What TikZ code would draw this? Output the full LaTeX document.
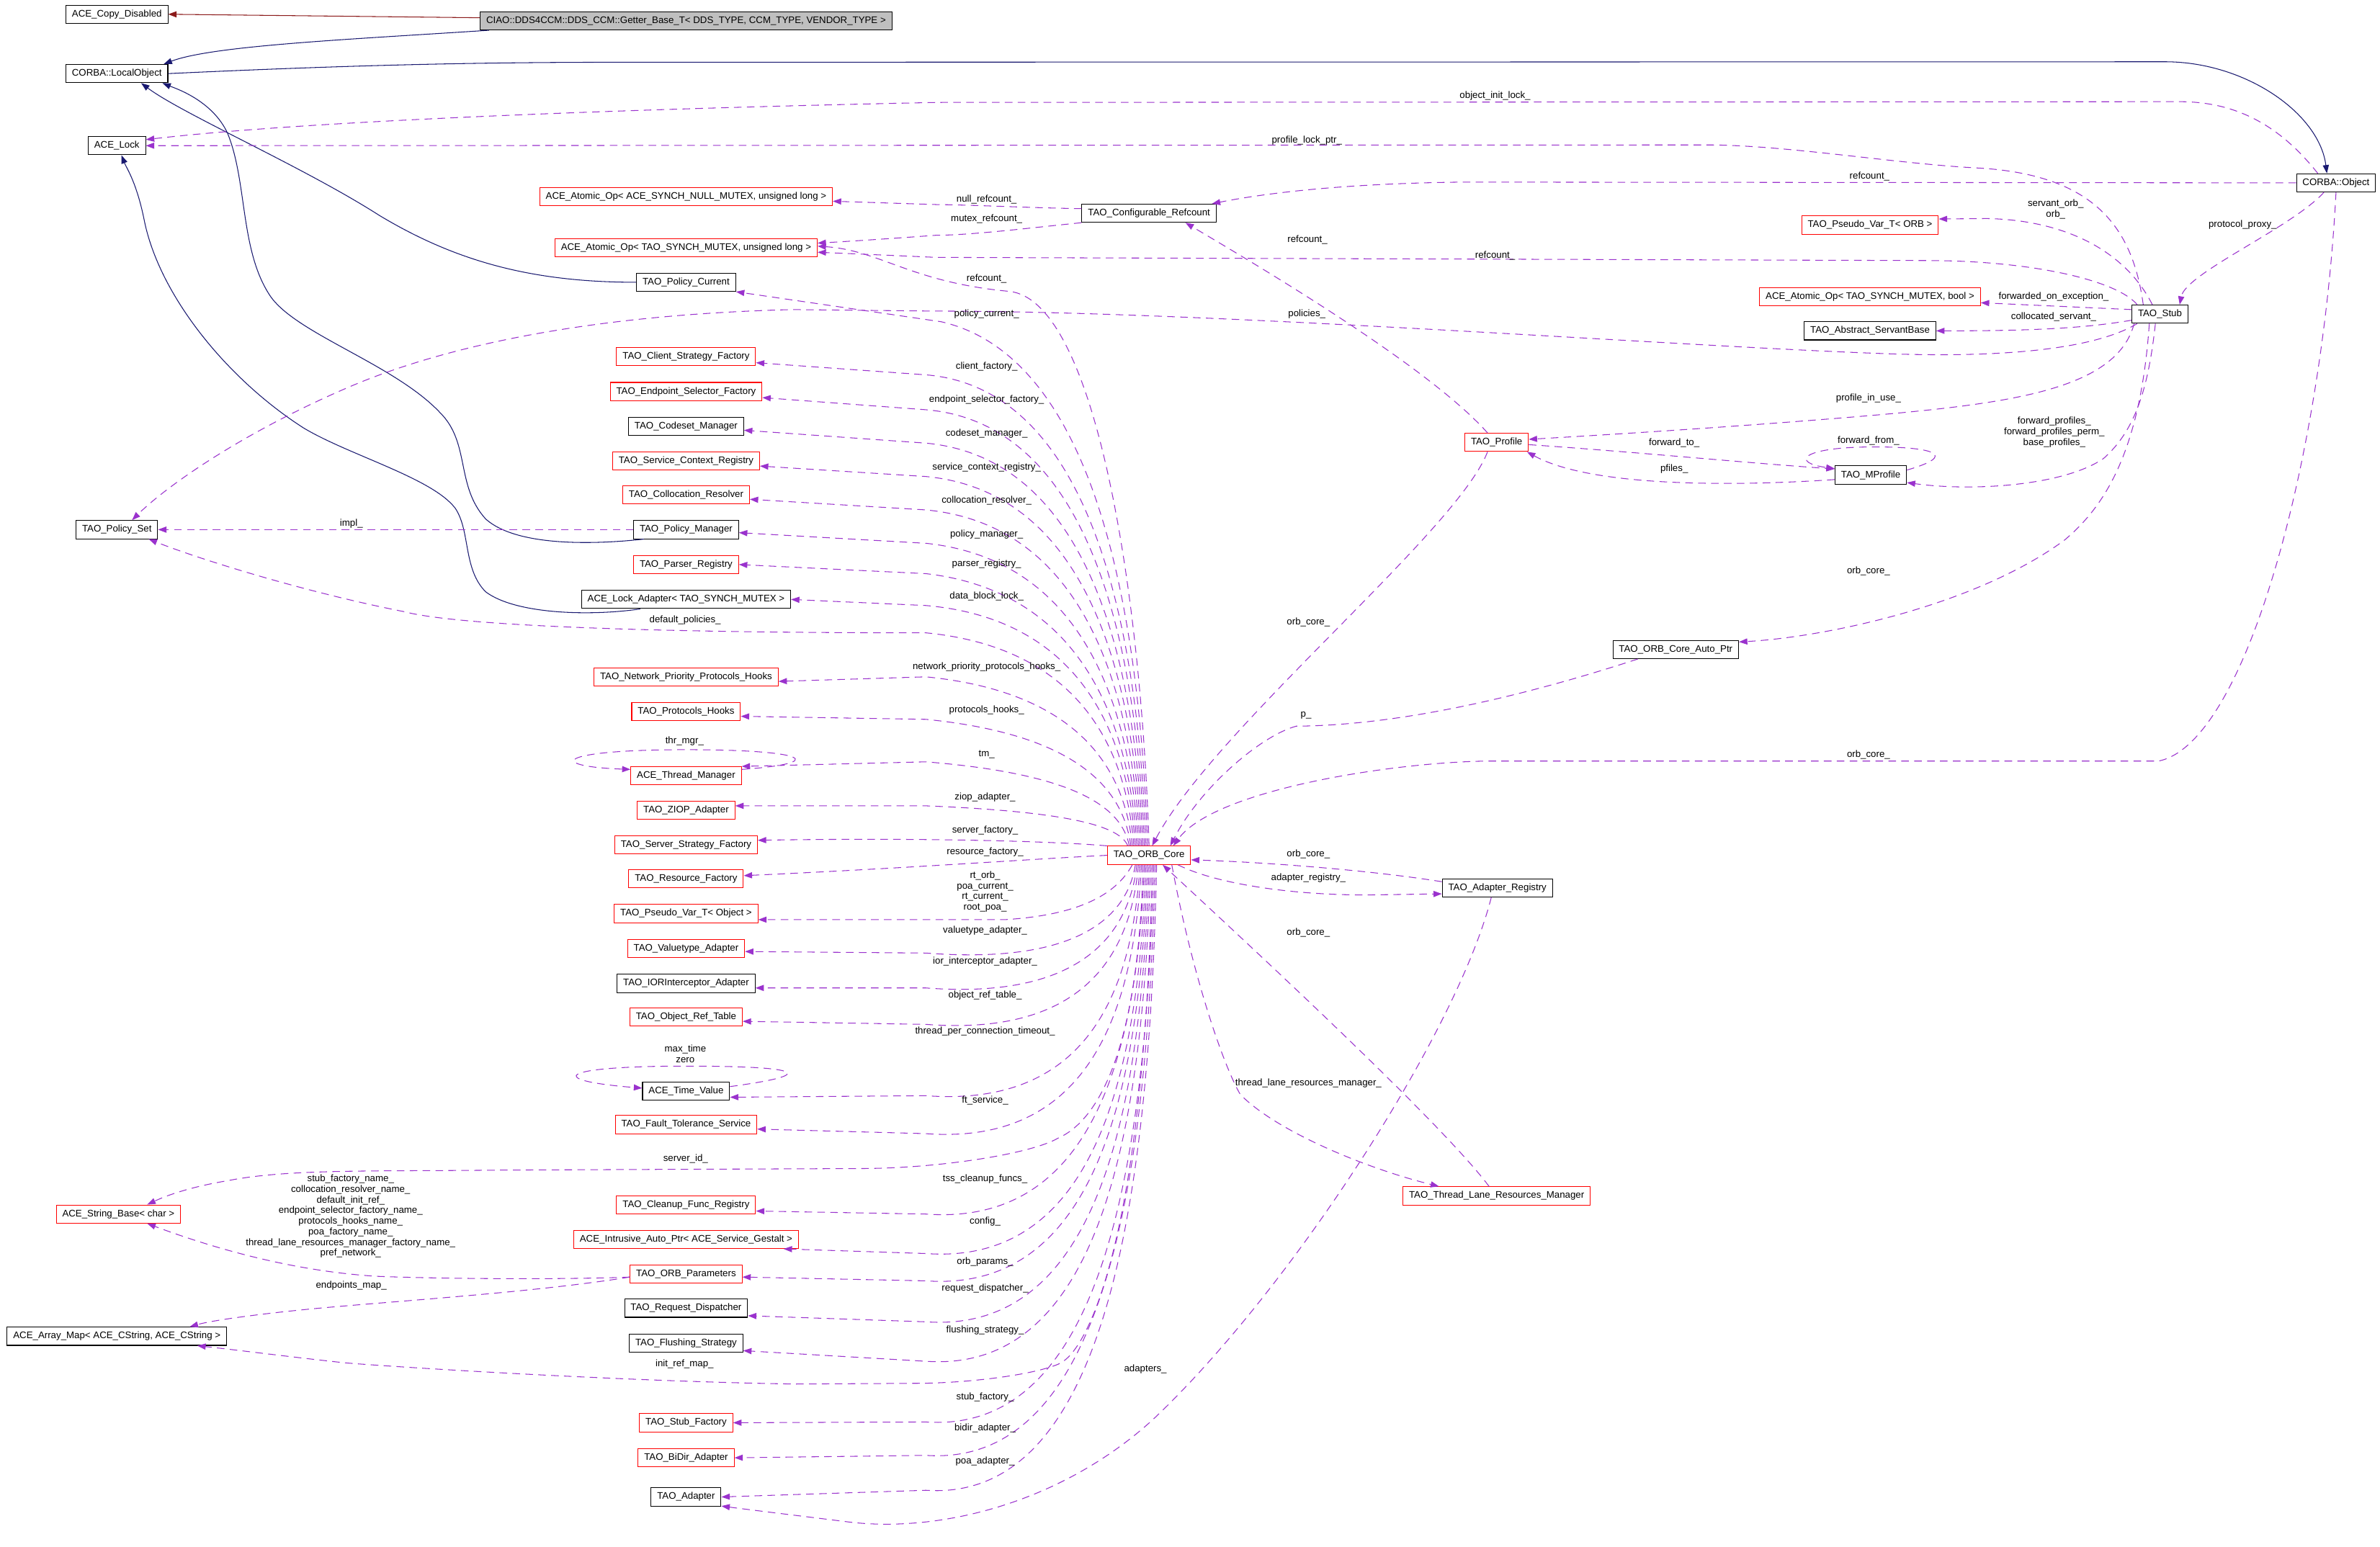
\documentclass[tikz,border=0pt]{standalone}
\usepackage{fontspec}
\setmainfont{Liberation Sans}
\usetikzlibrary{arrows.meta}
\definecolor{dorchid}{HTML}{9A32CD}
\definecolor{mnblue}{HTML}{191970}
\definecolor{fbrick}{HTML}{8B1A1A}
\definecolor{grayfill}{HTML}{BFBFBF}
\begin{document}
\begin{tikzpicture}[x=1pt, y=-1pt,
  cls/.style={draw=black, fill=white, line width=0.5pt, inner xsep=4pt, inner ysep=0pt, minimum height=12pt, font=\fontsize{6.3}{7}\selectfont},
  redcls/.style={cls, draw=red},
  lbl/.style={inner sep=0pt, font=\fontsize{6.3}{7}\selectfont, align=center},
  usage/.style={draw=dorchid, line width=0.5pt, dash pattern=on 5pt off 3.5pt, -{Triangle[length=5.5pt,width=4pt]}},
  inherit/.style={draw=mnblue, line width=0.5pt, -{Triangle[length=5.5pt,width=4pt]}},
  privinh/.style={draw=fbrick, line width=0.5pt, -{Triangle[length=5.5pt,width=4pt]}}]
\path[fill=white] (0,0) rectangle (1568,1019);
\node[cls] (copydis) at (77,9.4) {ACE\_Copy\_Disabled};
\node[cls, fill=grayfill] (getter) at (452,13.7) {CIAO::DDS4CCM::DDS\_CCM::Getter\_Base\_T< DDS\_TYPE, CCM\_TYPE, VENDOR\_TYPE >};
\node[cls] (localobj) at (77,48.5) {CORBA::LocalObject};
\node[cls] (acelock) at (77,96) {ACE\_Lock};
\node[cls] (polset) at (77,349) {TAO\_Policy\_Set};
\node[redcls] (strbase) at (78,800) {ACE\_String\_Base< char >};
\node[cls] (arraymap) at (77,880.5) {ACE\_Array\_Map< ACE\_CString, ACE\_CString >};
\node[redcls] (atomnull) at (452,129.6) {ACE\_Atomic\_Op< ACE\_SYNCH\_NULL\_MUTEX, unsigned long >};
\node[redcls] (atomtao) at (452,163.2) {ACE\_Atomic\_Op< TAO\_SYNCH\_MUTEX, unsigned long >};
\node[cls] (polcur) at (452,186) {TAO\_Policy\_Current};
\node[redcls] (client) at (452,235) {TAO\_Client\_Strategy\_Factory};
\node[redcls] (endpoint) at (452,258) {TAO\_Endpoint\_Selector\_Factory};
\node[cls] (codeset) at (452,281) {TAO\_Codeset\_Manager};
\node[redcls] (svcctx) at (452,303.6) {TAO\_Service\_Context\_Registry};
\node[redcls] (colres) at (452,326) {TAO\_Collocation\_Resolver};
\node[cls] (polmgr) at (452,349) {TAO\_Policy\_Manager};
\node[redcls] (parser) at (452,372) {TAO\_Parser\_Registry};
\node[cls] (lockadp) at (452,395) {ACE\_Lock\_Adapter< TAO\_SYNCH\_MUTEX >};
\node[redcls] (netprio) at (452,446) {TAO\_Network\_Priority\_Protocols\_Hooks};
\node[redcls] (prothooks) at (452,469) {TAO\_Protocols\_Hooks};
\node[redcls] (thrmgr) at (452,511) {ACE\_Thread\_Manager};
\node[redcls] (ziop) at (452,534) {TAO\_ZIOP\_Adapter};
\node[redcls] (srvfact) at (452,556.7) {TAO\_Server\_Strategy\_Factory};
\node[redcls] (resfact) at (452,579) {TAO\_Resource\_Factory};
\node[redcls] (pvobj) at (452,602) {TAO\_Pseudo\_Var\_T< Object >};
\node[redcls] (valtype) at (452,625) {TAO\_Valuetype\_Adapter};
\node[cls] (iorint) at (452,648) {TAO\_IORInterceptor\_Adapter};
\node[redcls] (objref) at (452,670) {TAO\_Object\_Ref\_Table};
\node[cls] (timeval) at (452,719) {ACE\_Time\_Value};
\node[redcls] (ftsvc) at (452,741) {TAO\_Fault\_Tolerance\_Service};
\node[redcls] (cleanup) at (452,794) {TAO\_Cleanup\_Func\_Registry};
\node[redcls] (intrusive) at (452,816.7) {ACE\_Intrusive\_Auto\_Ptr< ACE\_Service\_Gestalt >};
\node[redcls] (orbparams) at (452,839.5) {TAO\_ORB\_Parameters};
\node[cls] (reqdisp) at (452,862) {TAO\_Request\_Dispatcher};
\node[cls] (flush) at (452,885) {TAO\_Flushing\_Strategy};
\node[redcls] (stubfact) at (452,937.5) {TAO\_Stub\_Factory};
\node[redcls] (bidir) at (452,960.6) {TAO\_BiDir\_Adapter};
\node[cls] (adapter) at (452,986.4) {TAO\_Adapter};
\node[cls] (refcnt) at (757,140.5) {TAO\_Configurable\_Refcount};
\node[redcls] (orb) at (757,563.6) {TAO\_ORB\_Core};
\node[redcls] (profile) at (986,291.5) {TAO\_Profile};
\node[cls] (mprofile) at (1232.5,313) {TAO\_MProfile};
\node[cls] (autoptr) at (1104,428) {TAO\_ORB\_Core\_Auto\_Ptr};
\node[cls] (adreg) at (986.5,585) {TAO\_Adapter\_Registry};
\node[redcls] (tlrm) at (986,788) {TAO\_Thread\_Lane\_Resources\_Manager};
\node[redcls] (pvorb) at (1232,148.3) {TAO\_Pseudo\_Var\_T< ORB >};
\node[redcls] (atombool) at (1232,195.5) {ACE\_Atomic\_Op< TAO\_SYNCH\_MUTEX, bool >};
\node[cls] (servbase) at (1232,218) {TAO\_Abstract\_ServantBase};
\node[cls] (stub) at (1423,207) {TAO\_Stub};
\node[cls] (object) at (1539,120.5) {CORBA::Object};
\draw[privinh] ([yshift=2pt]getter.west) -- (copydis.east);
\draw[inherit] ([xshift=6pt]getter.south west) .. controls (230,26) and (140,30) .. ([xshift=-3pt]localobj.north east);
\draw[inherit] (localobj.east) .. controls (250,42) and (330,41) .. (420,41) -- (1427,40.7) .. controls (1480,41) and (1528,75) .. ([xshift=-6pt]object.north);
\draw[inherit] (polcur.west) .. controls (350,186) and (300,172) .. (250,142) .. controls (200,110) and (120,75) .. ([xshift=16pt]localobj.south);
\draw[inherit] ([xshift=7pt]polmgr.south west) .. controls (390,359) and (340,360) .. (320,342) .. controls (300,320) and (310,292) .. (290,272) .. controls (260,240) and (195,220) .. (178,195) .. controls (158,165) and (163,120) .. (150,88) .. controls (140,66) and (115,58) .. ([xshift=30pt]localobj.south);
\draw[inherit] ([xshift=39pt]lockadp.south west) .. controls (390,406) and (340,405) .. (320,390) .. controls (305,375) and (310,350) .. (300,335) .. controls (285,315) and (230,300) .. (200,282) .. controls (150,250) and (105,195) .. (95,145) .. controls (90,120) and (83,110) .. ([xshift=3pt]acelock.south);
\draw[usage] ([xshift=-12pt]object.north) .. controls (1500,80) and (1470,67) .. (1436,67) -- (617,67.5) .. controls (400,72) and (200,80) .. ([yshift=4pt]acelock.east);
\draw[usage] (object.west) -- (963,120) .. controls (880,121) and (830,128) .. ([xshift=-3pt]refcnt.north east);
\draw[usage] ([xshift=-8pt]object.south) .. controls (1510,150) and (1440,180) .. ([xshift=13pt]stub.north);
\draw[usage] (object.south) .. controls (1530,300) and (1480,490) .. (1422,501.5) -- (981,501.5) .. controls (920,502) and (800,520) .. ([xshift=16pt]orb.north);
\draw[usage] ([xshift=-11pt]stub.north) .. controls (1405,150) and (1380,115) .. (1303,110.7) .. controls (1250,108) and (1180,96) .. (1127,95.5) -- (acelock.east);
\draw[usage] ([xshift=-5pt]stub.north) .. controls (1400,165) and (1360,145) .. (1309,144) -- ([yshift=4pt]pvorb.east);
\draw[usage] ([xshift=-15pt]stub.north) .. controls (1395,185) and (1340,172) .. (1272,171.7) -- (617,169.6) -- ([yshift=-3pt]atomtao.east);
\draw[usage] ([yshift=3pt]stub.west) -- ([yshift=-4pt]atombool.east);
\draw[usage] ([yshift=-4pt]stub.west) .. controls (1370,217) and (1330,218) .. (servbase.east);
\draw[usage] ([xshift=-15pt]stub.south) .. controls (1380,230) and (1320,236) .. (1241,233) .. controls (1100,228) and (800,205) .. (617,205) -- (522,204) .. controls (400,207) and (300,225) .. (230,255) .. controls (160,285) and (110,320) .. ([xshift=10pt]polset.north);
\draw[usage] ([xshift=-17pt]stub.south) .. controls (1395,255) and (1330,265) .. (1241.6,273) .. controls (1150,281) and (1050,287) .. ([yshift=2pt]profile.east);
\draw[usage] ([xshift=-3pt]stub.south) .. controls (1415,260) and (1405,285) .. (1386,302) .. controls (1360,320) and (1300,324) .. ([yshift=-5pt]mprofile.east);
\draw[usage] ([xshift=-7pt]stub.south) .. controls (1410,300) and (1385,335) .. (1360,356) .. controls (1300,400) and (1200,420) .. ([yshift=5pt]autoptr.east);
\draw[usage] ([xshift=-6pt]profile.north) .. controls (940,240) and (820,170) .. ([xshift=24pt]refcnt.south);
\draw[usage] ([yshift=-1.5pt]profile.east) .. controls (1080,298) and (1150,305) .. ([yshift=4pt]mprofile.west);
\draw[usage] ([yshift=-3pt]mprofile.west) .. controls (1150,320) and (1050,322) .. ([xshift=20pt]profile.south);
\draw[usage] ([yshift=-3pt]mprofile.north east) .. controls (1290,300) and (1275,294.5) .. (1235,294.5) .. controls (1185,294.5) and (1180,305) .. ([yshift=-2pt]mprofile.north west);
\draw[usage] ([xshift=-6pt]profile.south) .. controls (960,350) and (800,480) .. ([xshift=2pt]orb.north);
\draw[usage] ([xshift=-25pt]autoptr.south) .. controls (1000,460) and (920,478) .. (854,478.5) .. controls (830,485) and (790,520) .. ([xshift=14pt]orb.north);
\draw[usage] ([yshift=3pt]refcnt.west) .. controls (680,137) and (640,135) .. (617,134.8) -- ([yshift=-3pt]atomnull.east);
\draw[usage] (refcnt.south west) .. controls (680,150) and (640,155) .. (617,155) .. controls (590,157) and (560,159) .. ([yshift=3pt]atomtao.east);
\draw[usage] (polmgr.west) -- (polset.east);
\draw[usage] (orb.north) .. controls (752,392) and (722,198) .. (665,192) .. controls (600,186) and (580,165) .. ([yshift=1pt]atomtao.east);
\draw[usage] ([xshift=-1pt]orb.north) .. controls (751,402) and (721,235) .. (620,212) -- (polcur.south east);
\draw[usage] ([xshift=-2pt]orb.north) .. controls (750,417) and (720,256) .. (610,247) -- ([yshift=-4pt]client.east);
\draw[usage] ([xshift=-3pt]orb.north) .. controls (749,427) and (719,279) .. (610,270) -- ([yshift=-4pt]endpoint.east);
\draw[usage] ([xshift=-4pt]orb.north) .. controls (748,438) and (718,302) .. (610,292) -- ([yshift=-2.5pt]codeset.east);
\draw[usage] ([xshift=-5pt]orb.north) .. controls (747,448) and (717,324) .. (610,314) -- ([yshift=-3.5pt]svcctx.east);
\draw[usage] ([xshift=-6pt]orb.north) .. controls (746,458) and (716,346) .. (610,336) -- ([yshift=-3pt]colres.east);
\draw[usage] ([xshift=-7pt]orb.north) .. controls (745,468) and (715,369) .. (610,358) -- ([yshift=-2pt]polmgr.east);
\draw[usage] ([xshift=-8pt]orb.north) .. controls (744,478) and (714,390) .. (610,378) -- (parser.east);
\draw[usage] ([xshift=-9pt]orb.north) .. controls (743,485) and (713,408) .. (610,399) -- (lockadp.east);
\draw[usage] ([xshift=-10pt]orb.north) .. controls (742,494) and (712,427) .. (610,417) .. controls (420,417) and (300,412) .. (266,403) .. controls (200,390) and (130,368) .. ([xshift=21pt]polset.south);
\draw[usage] ([xshift=-11pt]orb.north) .. controls (741,507) and (711,456) .. (610,446) -- ([yshift=-3pt]netprio.east);
\draw[usage] ([xshift=-12pt]orb.north) .. controls (740,520) and (710,484) .. (610,474) -- ([yshift=-3pt]prothooks.east);
\draw[usage] ([xshift=-13pt]orb.north) .. controls (739,532) and (709,510) .. (610,502) -- ([yshift=6pt]thrmgr.east);
\draw[usage] ([yshift=4pt]thrmgr.east) .. controls (545,503) and (535,494) .. (452,494) .. controls (365,494) and (360,505) .. ([yshift=4pt]thrmgr.west);
\draw[usage] ([xshift=-14pt]orb.north) .. controls (738,545) and (708,535) .. (610,531) -- ([yshift=3pt]ziop.east);
\draw[usage] (orb.north west) .. controls (690,554) and (600,552) .. ([yshift=3pt]srvfact.east);
\draw[usage] (orb.west) .. controls (680,566) and (600,572) .. ([yshift=2pt]resfact.east);
\draw[usage] ([xshift=-11pt]orb.south) .. controls (735,590) and (710,603) .. (662,606) -- ([yshift=-4pt]pvobj.east);
\draw[usage] ([xshift=-9pt]orb.south) .. controls (743,602) and (713,636) .. (610,628) -- ([yshift=-2pt]valtype.east);
\draw[usage] ([xshift=-8pt]orb.south) .. controls (744,614) and (714,659) .. (610,651) -- ([yshift=-3pt]iorint.east);
\draw[usage] ([xshift=-7pt]orb.south) .. controls (745,628) and (715,683) .. (610,675) -- ([yshift=-3pt]objref.east);
\draw[usage] ([xshift=-6pt]orb.south) .. controls (746,654) and (716,730) .. (610,722) -- ([yshift=-4pt]timeval.east);
\draw[usage] ([yshift=3pt]timeval.east) .. controls (540,708) and (530,702.5) .. (452,702.5) .. controls (365,702.5) and (360,712) .. ([yshift=2pt]timeval.west);
\draw[usage] ([xshift=-5pt]orb.south) .. controls (747,667) and (717,755) .. (610,747) -- ([yshift=-3pt]ftsvc.east);
\draw[usage] ([xshift=-4pt]orb.south) .. controls (750,700) and (720,740) .. (697,750) .. controls (680,760) and (620,770) .. (566,770) -- (333,771) .. controls (250,772) and (190,770) .. (150,778) .. controls (120,783) and (105,790) .. ([xshift=19pt]strbase.north);
\draw[usage] ([xshift=-3pt]orb.south) .. controls (749,697) and (719,808) .. (610,800) -- ([yshift=-4pt]cleanup.east);
\draw[usage] ([xshift=-2pt]orb.south) .. controls (750,711) and (720,834) .. (610,826) -- ([xshift=-10pt]intrusive.south east);
\draw[usage] ([xshift=-1pt]orb.south) .. controls (751,721) and (721,852) .. (610,844) -- ([yshift=-2pt]orbparams.east);
\draw[usage] (orb.south) .. controls (752,736) and (722,879) .. (610,871) -- ([yshift=-5pt]reqdisp.east);
\draw[usage] ([xshift=1pt]orb.south) .. controls (753,750) and (723,905) .. (610,897) -- ([yshift=-5pt]flush.east);
\draw[usage] ([xshift=2pt]orb.south) .. controls (755,800) and (720,890) .. (697,899) .. controls (680,906) and (640,911) .. (608,911.5) -- (524,912) .. controls (400,910) and (250,900) .. (227,898) .. controls (190,894) and (160,890) .. ([xshift=53pt]arraymap.south);
\draw[usage] ([xshift=3pt]orb.south) .. controls (755,772) and (725,945) .. (610,937) -- (stubfact.east);
\draw[usage] ([xshift=4pt]orb.south) .. controls (756,784) and (726,967) .. (610,959) -- (bidir.east);
\draw[usage] ([xshift=5pt]orb.south) .. controls (757,797) and (727,990) .. (610,982) -- (adapter.east);
\draw[usage] ([yshift=-2pt]orbparams.west) .. controls (380,843) and (300,843) .. (248,841) .. controls (200,838) and (150,826) .. ([xshift=19pt]strbase.south);
\draw[usage] ([yshift=-2pt]orbparams.west) .. controls (350,852) and (250,858) .. (200,863) .. controls (170,866) and (140,870) .. ([xshift=48pt]arraymap.north);
\draw[usage] ([xshift=19pt]orb.south) .. controls (800,582) and (850,590) .. (902,589.7) -- ([yshift=-4pt]adreg.west);
\draw[usage] ([yshift=4pt]adreg.west) .. controls (900,573) and (830,568) .. ([yshift=-3pt]orb.east);
\draw[usage] ([xshift=-4pt]adreg.south) .. controls (960,680) and (850,850) .. (760,935) .. controls (700,990) and (620,1010) .. (560,1003) .. controls (520,998) and (495,995) .. ([yshift=-6pt]adapter.east);
\draw[usage] ([xshift=15pt]orb.south) .. controls (785,640) and (805,700) .. (817,721) .. controls (840,745) and (900,770) .. ([xshift=-38pt]tlrm.north);
\draw[usage] ([xshift=-5pt]tlrm.north) .. controls (950,740) and (820,620) .. ([xshift=9pt]orb.south);
\node[lbl] (lobjinit) at (985,63) {object\_init\_lock\_};
\node[lbl] (lproflock) at (861,92.5) {profile\_lock\_ptr\_};
\node[lbl] (lobjref) at (1231.7,116.3) {refcount\_};
\node[lbl] (lservorb) at (1354.3,137.9) {servant\_orb\_\\orb\_};
\node[lbl] (lproxy) at (1477.5,148) {protocol\_proxy\_};
\node[lbl] (lstubref) at (985,168.5) {refcount\_};
\node[lbl] (lfwdexc) at (1353,195.7) {forwarded\_on\_exception\_};
\node[lbl] (lcolloc) at (1353,208.8) {collocated\_servant\_};
\node[lbl] (lpolicies) at (861,207) {policies\_};
\node[lbl] (lprofref) at (861.4,158) {refcount\_};
\node[lbl] (linuse) at (1231,262.5) {profile\_in\_use\_};
\node[lbl] (lfwdprof) at (1353.4,284.8) {forward\_profiles\_\\forward\_profiles\_perm\_\\base\_profiles\_};
\node[lbl] (lfwdfrom) at (1231,290.5) {forward\_from\_};
\node[lbl] (lfwdto) at (1103,292) {forward\_to\_};
\node[lbl] (lpfiles) at (1103,309) {pfiles\_};
\node[lbl] (lstuborb) at (1231,376.5) {orb\_core\_};
\node[lbl] (lproforb) at (862,410) {orb\_core\_};
\node[lbl] (lp) at (860.4,471.4) {p\_};
\node[lbl] (lobjorb) at (1231,497.5) {orb\_core\_};
\node[lbl] (lnullref) at (650,131.3) {null\_refcount\_};
\node[lbl] (lmutexref) at (650,144.4) {mutex\_refcount\_};
\node[lbl] (lorbref) at (650,183.7) {refcount\_};
\node[lbl] (lpolcur) at (650,206.8) {policy\_current\_};
\node[lbl] (lclient) at (650,241.4) {client\_factory\_};
\node[lbl] (lendpoint) at (650,263.6) {endpoint\_selector\_factory\_};
\node[lbl] (lcodeset) at (650,285.7) {codeset\_manager\_};
\node[lbl] (lsvcctx) at (650,307.9) {service\_context\_registry\_};
\node[lbl] (lcolres) at (650,330) {collocation\_resolver\_};
\node[lbl] (lpolmgr) at (650,352.4) {policy\_manager\_};
\node[lbl] (lparser) at (650,371.5) {parser\_registry\_};
\node[lbl] (ldatalock) at (650,393) {data\_block\_lock\_};
\node[lbl] (limpl) at (231.5,345) {impl\_};
\node[lbl] (ldefpol) at (451.4,408.5) {default\_policies\_};
\node[lbl] (lnetprio) at (650,439.5) {network\_priority\_protocols\_hooks\_};
\node[lbl] (lprothooks) at (650,468) {protocols\_hooks\_};
\node[lbl] (lthrmgr) at (451,488.5) {thr\_mgr\_};
\node[lbl] (ltm) at (650,497) {tm\_};
\node[lbl] (lziop) at (649,525.5) {ziop\_adapter\_};
\node[lbl] (lsrvfact) at (649,547) {server\_factory\_};
\node[lbl] (lresfact) at (649,561.6) {resource\_factory\_};
\node[lbl] (lrtorb) at (649,587.5) {rt\_orb\_\\poa\_current\_\\rt\_current\_\\root\_poa\_};
\node[lbl] (lvaltype) at (649,613) {valuetype\_adapter\_};
\node[lbl] (liorint) at (649,633.6) {ior\_interceptor\_adapter\_};
\node[lbl] (lobjtable) at (649,656) {object\_ref\_table\_};
\node[lbl] (ltpct) at (649,679.6) {thread\_per\_connection\_timeout\_};
\node[lbl] (lmaxtime) at (451.5,694.3) {max\_time\\zero};
\node[lbl] (lft) at (649,725) {ft\_service\_};
\node[lbl] (lserverid) at (451.7,763.6) {server\_id\_};
\node[lbl] (ltss) at (649,777) {tss\_cleanup\_funcs\_};
\node[lbl] (lnames) at (231,801.5) {stub\_factory\_name\_\\collocation\_resolver\_name\_\\default\_init\_ref\_\\endpoint\_selector\_factory\_name\_\\protocols\_hooks\_name\_\\poa\_factory\_name\_\\thread\_lane\_resources\_manager\_factory\_name\_\\pref\_network\_};
\node[lbl] (lconfig) at (649,805) {config\_};
\node[lbl] (lorbparams) at (649,831.5) {orb\_params\_};
\node[lbl] (lendmap) at (231.4,847) {endpoints\_map\_};
\node[lbl] (lreqdisp) at (649,849) {request\_dispatcher\_};
\node[lbl] (lflush) at (649,876.6) {flushing\_strategy\_};
\node[lbl] (linitref) at (451,899) {init\_ref\_map\_};
\node[lbl] (ladapters) at (754.6,902) {adapters\_};
\node[lbl] (lstubfact) at (649,920.7) {stub\_factory\_};
\node[lbl] (lbidir) at (649,941) {bidir\_adapter\_};
\node[lbl] (lpoa) at (649,963) {poa\_adapter\_};
\node[lbl] (lregorb) at (862,563) {orb\_core\_};
\node[lbl] (ladreg) at (862,578.5) {adapter\_registry\_};
\node[lbl] (ltlrmorb) at (862,614.6) {orb\_core\_};
\node[lbl] (ltlrm) at (862,714) {thread\_lane\_resources\_manager\_};
\end{tikzpicture}
\end{document}
